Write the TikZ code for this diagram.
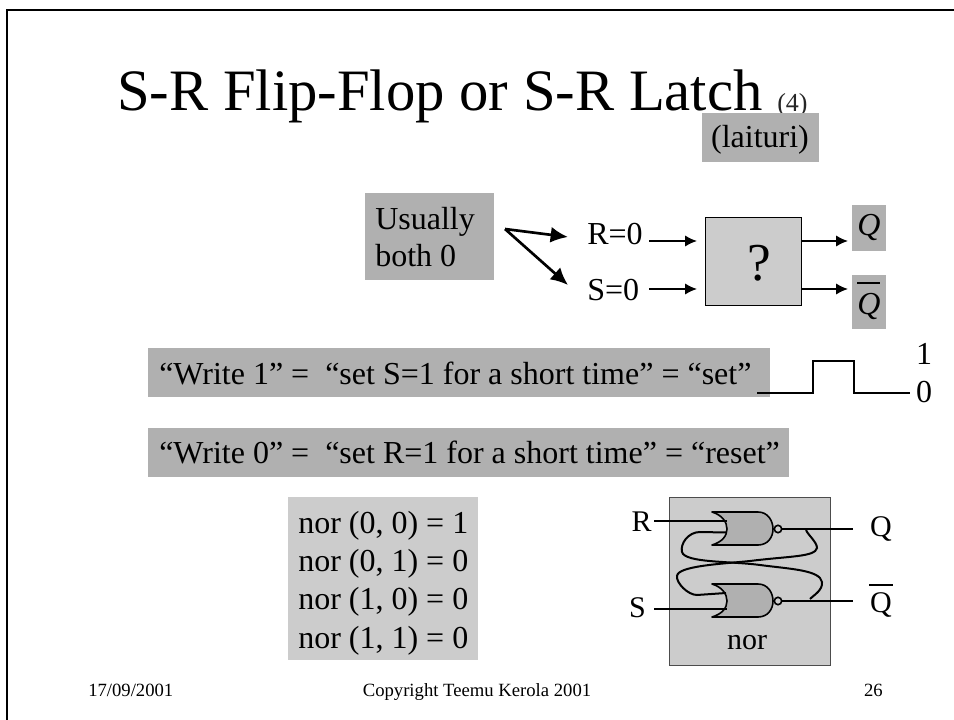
\documentclass[tikz,border=0pt]{standalone}
\usepackage{fontspec}
\setmainfont{Liberation Serif}
\usetikzlibrary{arrows.meta}
\definecolor{boxg}{gray}{0.69}
\definecolor{lightg}{gray}{0.80}
\tikzset{
 txt/.style={inner sep=0pt,font=\fontsize{24}{28}\selectfont},
 lbl/.style={inner sep=0pt,anchor=base,font=\fontsize{22.5}{26}\selectfont},
 small/.style={inner sep=0pt,font=\fontsize{14}{16}\selectfont},
 panel/.style={inner sep=0pt,anchor=north west,fill=boxg},
 wire/.style={line width=1.2pt,-{Latex[length=9pt,width=8.5pt]}},
 fanwire/.style={line width=2pt,-{Latex[length=13pt,width=12pt]}},
 gatewire/.style={line width=1.5pt},
 gate/.style={draw=black,fill=boxg,line width=1.2pt,line join=round},
}
\begin{document}
\begin{tikzpicture}[x=0.75pt,y=-0.75pt]
\useasboundingbox (0,0) rectangle (954,720);
\draw[line width=1.6pt] (7,720) -- (7,10) -- (954,10);
% title
\node[inner sep=0pt,anchor=base west,font=\fontsize{44}{50}\selectfont] (title) at (117,111) {S-R Flip-Flop or S-R Latch};
\node[inner sep=0pt,anchor=base west,font=\fontsize{19.5}{22}\selectfont,text=black!85] (four) at (777,112) {(4)};
\node[panel,minimum width=117*0.75pt,minimum height=49*0.75pt] (lait) at (702,113) {};
\node[txt,anchor=base] (laittxt) at (760,148) {(laituri)};
% usually
\node[panel,minimum width=129*0.75pt,minimum height=87*0.75pt] (usbox) at (365,193) {};
\node[txt,anchor=base west] (us1) at (375,230) {Usually};
\node[txt,anchor=base west] (us2) at (375,267) {both 0};
\coordinate (fan) at (505,229);
\node[txt,anchor=base west] (r0) at (587,245) {R=0};
\node[txt,anchor=base west] (s0) at (587,301) {S=0};
\coordinate (fr) at (568,237); \coordinate (fs) at (568,285);
\draw[fanwire] (fan) -- (fr);
\draw[fanwire] (fan) -- (fs);
\node[draw=black,fill=lightg,line width=1pt,inner sep=0pt,anchor=north west,minimum width=96*0.75pt,minimum height=88*0.75pt] (qm) at (705,217) {};
\node[inner sep=0pt,anchor=base,font=\fontsize{40}{44}\selectfont] (qmt) at (759,281) {?};
\coordinate (ra) at (649,241); \coordinate (rb) at (697,241);
\coordinate (sa) at (649,289); \coordinate (sb) at (697,289);
\draw[wire] (ra) -- (rb);
\draw[wire] (sa) -- (sb);
\coordinate (qa) at (801,241); \coordinate (qb) at (848,241);
\coordinate (nqa) at (801,289); \coordinate (nqb) at (848,289);
\node[panel,minimum width=34*0.75pt,minimum height=46*0.75pt] (qbox) at (852,205) {};
\node[panel,minimum width=34*0.75pt,minimum height=54*0.75pt] (nqbox) at (852,275) {};
\draw[wire] (qa) -- (qb);
\draw[wire] (nqa) -- (nqb);
\node[inner sep=0pt,anchor=base,font=\fontsize{24}{28}\selectfont\itshape] (q1) at (869,236) {Q};
\node[inner sep=0pt,anchor=base,font=\fontsize{24}{28}\selectfont\itshape] (q2) at (869,315) {Q};
\coordinate (ba) at (857,283); \coordinate (bb) at (880,283);
\draw[line width=.9pt] (ba) -- (bb);
% write lines
\node[panel,minimum width=622*0.75pt,minimum height=49*0.75pt] (w1box) at (148,348) {};
\node[txt,anchor=base west] (w1) at (159,385) {“Write 1” = \ “set S=1 for a short time” = “set”};
\node[panel,minimum width=641*0.75pt,minimum height=49*0.75pt] (w0box) at (148,428) {};
\node[txt,anchor=base west] (w0) at (159,464) {“Write 0” = \ “set R=1 for a short time” = “reset”};
\coordinate (pa) at (757,393);
\coordinate (pe) at (910,393);
\draw[line width=.9pt] (pa) -- (813,393) -- (813,361) -- (854,361) -- (854,393) -- (pe);
\node[txt,anchor=base] (one) at (924,365) {1};
\node[txt,anchor=base] (zero) at (924,403) {0};
% nor table
\node[panel,fill=lightg,minimum width=190*0.75pt,minimum height=163*0.75pt] (norbox) at (288,497) {};
\node[txt,anchor=base west] (n1) at (298,533) {nor (0, 0) = 1};
\node[txt,anchor=base west] (n2) at (298,571) {nor (0, 1) = 0};
\node[txt,anchor=base west] (n3) at (298,609) {nor (1, 0) = 0};
\node[txt,anchor=base west] (n4) at (298,648) {nor (1, 1) = 0};
% latch
\node[panel,fill=lightg,draw=black!70,line width=.9pt,minimum width=161*0.75pt,minimum height=168*0.75pt] (latch) at (669,497) {};
\newcommand{\norgate}[2]{%
 \draw[gate] (#1+0,#2-17) -- (#1+46,#2-17) .. controls (#1+56,#2-17) and (#1+61,#2-8) .. (#1+61,#2-0)
 .. controls (#1+61,#2+8) and (#1+56,#2+16) .. (#1+46,#2+16) -- (#1+0,#2+16)
 .. controls (#1+10,#2+13) and (#1+15,#2+7) .. (#1+15,#2)
 .. controls (#1+15,#2-7) and (#1+10,#2-14) .. (#1+0,#2-17) -- cycle;
 \draw[fill=lightg,line width=1.2pt] (#1+66,#2) circle[radius=3.7];}
\norgate{712}{529}
\norgate{712}{601}
\node[lbl] (rl) at (641.5,532) {R};
\node[lbl] (sl) at (637.5,617) {S};
\node[lbl] (ql) at (881,537) {Q};
\node[lbl] (qnl) at (881,612) {Q};
\coordinate (oa) at (869,585); \coordinate (ob) at (893,585);
\draw[line width=.9pt] (oa) -- (ob);
\node[lbl] (norl) at (747,649) {nor};
\coordinate (rin) at (654,521); \coordinate (rg) at (727,521);
\coordinate (sin) at (654,609); \coordinate (sg) at (727,609);
\coordinate (qo) at (782,529); \coordinate (qe) at (853,529);
\coordinate (no) at (782,601); \coordinate (ne) at (853,601);
\draw[gatewire] (rin) -- (rg);
\draw[gatewire] (sin) -- (sg);
\draw[gatewire] (qo) -- (qe);
\draw[gatewire] (no) -- (ne);
\coordinate (ga) at (726,532.5); \coordinate (gb) at (726,593);
\coordinate (ta) at (810,599); \coordinate (tb) at (806,530);
\draw[gatewire] (ga) -- (700,532) .. controls (688,532) and (680,544) .. (682,552)
 .. controls (685,563) and (730,561) .. (760,565) .. controls (790,569) and (820,570) .. (822,582)
 .. controls (823,590) and (814,595) .. (ta);
\draw[gatewire] (gb) -- (697,595) .. controls (688,595) and (676,583) .. (677,576)
 .. controls (678,566) and (720,564) .. (750,561) .. controls (790,556) and (815,557) .. (817,548)
 .. controls (817,542) and (808,535) .. (tb);
% footer
\node[small,anchor=base west] (date) at (88,696) {17/09/2001};
\node[small,anchor=base] (copy) at (477,696) {Copyright Teemu Kerola 2001};
\node[small,anchor=base east] (page) at (883,696) {26};
\end{tikzpicture}
\end{document}
